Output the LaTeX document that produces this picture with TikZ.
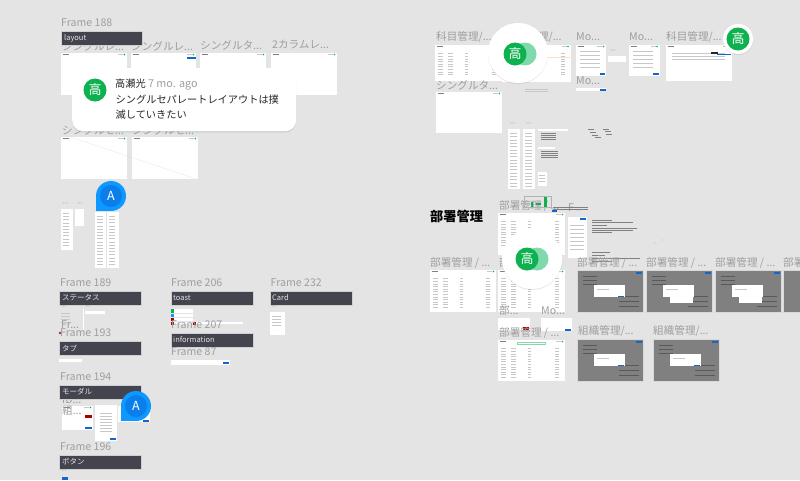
\documentclass[tikz,border=0pt]{standalone}
\usepackage{fontspec}
\setmainfont{Noto Sans CJK JP}
\usetikzlibrary{shadows}
\definecolor{canvas}{HTML}{E4E4E4}
\definecolor{labelgray}{HTML}{9E9E9E}
\definecolor{barink}{HTML}{44444F}
\definecolor{avatargreen}{HTML}{0DB14F}
\definecolor{avatarpale}{HTML}{7FD9AC}
\definecolor{pinblue}{HTML}{0D99FF}
\definecolor{pindark}{HTML}{0A7EEB}
\definecolor{btnblue}{HTML}{1267C9}
\definecolor{dimshot}{HTML}{808080}
\tikzset{
  framelabel/.style={anchor=west, inner sep=0pt, text=labelgray, font=\fontsize{10.6}{12}\selectfont},
  framebar/.style={anchor=north west, inner sep=0pt, fill=barink, draw=white!75!barink, line width=.4pt, minimum width=82pt, minimum height=14pt},
  bartext/.style={anchor=west, inner sep=0pt, text=white!85!barink, font=\fontsize{7.5}{9}\selectfont},
  shotbox/.style={anchor=north west, inner sep=0pt, fill=white},
  dimbox/.style={anchor=north west, inner sep=0pt, fill=dimshot, draw=white!70!dimshot, line width=.3pt},
  modalbox/.style={anchor=north west, inner sep=0pt, fill=white},
  tinyline/.style={draw=black!22, line width=.3pt},
  tinydark/.style={draw=black!50, line width=.35pt},
  avatar/.style={circle, inner sep=0pt, fill=avatargreen, text=white, minimum size=23pt, font=\fontsize{13}{14}\selectfont},
  palecircle/.style={circle, inner sep=0pt, fill=avatarpale, minimum size=23pt},
  whitedisc/.style={circle, inner sep=0pt, fill=white, drop shadow={opacity=.18, shadow xshift=0pt, shadow yshift=-1pt}},
  pintext/.style={circle, inner sep=0pt, fill=pindark, text=white, minimum size=22pt, font=\fontsize{12.5}{13}\selectfont},
  dotsmark/.style={anchor=center, inner sep=0pt, text=black!50, font=\fontsize{3.5}{4}\selectfont}
}
\newcommand{\threedots}{\textbullet\,\textbullet\,\textbullet}
% screenshot with its header marks
\newcommand{\shot}[5]{
  \node[shotbox, minimum width=#4pt, minimum height=#5pt] (#1) at (#2,#3) {};
  \draw[tinydark] ([shift={(1.5pt,-1.5pt)}]#1.north west) -- +(6,0);
  \draw[tinyline] ([shift={(-9pt,-1.5pt)}]#1.north east) -- +(5,0);
  \fill[avatargreen] ([shift={(-3pt,-1.5pt)}]#1.north east) circle (.9pt);
}
% screenshot with a side menu and table rows
\newcommand{\tablerows}[2]{
  \foreach \r in {1,...,#2} {
    \draw[tinyline] ([shift={(3pt,-6pt-2.6pt*\r)}]#1.north west) -- +(5,0);
    \draw[tinyline] ([shift={(13pt,-6pt-2.6pt*\r)}]#1.north west) -- +(5,0);
    \draw[tinyline] ([shift={(30pt,-6pt-2.6pt*\r)}]#1.north west) -- +(3,0);
    \draw[tinyline] ([shift={(-10pt,-6pt-2.6pt*\r)}]#1.north east) -- +(4,0);
  }
}
% dimmed screenshot with a modal on it
\newcommand{\dimshotbox}[3]{
  \node[dimbox, minimum width=66pt, minimum height=42pt] (#1) at (#2,#3) {};
  \foreach \r in {6,10,14} { \draw[black!65, line width=.3pt] ([shift={(6pt,-\r pt)}]#1.north west) -- +(14,0); }
  \foreach \r in {26,31,36} { \draw[black!65, line width=.3pt] ([shift={(-24pt,-\r pt)}]#1.north east) -- +(20,0); }
  \node[modalbox, minimum width=31pt, minimum height=12pt] (#1m) at ([shift={(17pt,-15pt)}]#1.north west) {};
  \draw[tinyline] ([shift={(3pt,-4pt)}]#1m.north west) -- +(12,0);
  \fill[btnblue] ([shift={(-7pt,1.5pt)}]#1m.south east) rectangle +(6,1.2);
  \fill[btnblue] ([shift={(-7pt,-2pt)}]#1.north east) rectangle +(6,1.5);
}
\newcommand{\pin}[3]{
  \fill[pinblue] (#2,#3) circle (15pt);
  \fill[pinblue] (#2,#3) rectangle +(-15,15);
  \node[pintext] (#1) at (#2,#3) {A};
}
\begin{document}
\begin{tikzpicture}[x=1pt,y=-1pt]
  \useasboundingbox (0,0) rectangle (800,480);
  \clip (0,0) rectangle (800,480);
  \fill[canvas] (0,0) rectangle (800,480);

  % left column, layout
  \node[framelabel] (f188) at (61,23) {Frame 188};
  \node[framelabel] (l188a) at (62,46) {シングルレ...};
  \node[framelabel] (l188b) at (131,46) {シングルレ...};
  \node[framelabel] (l188c) at (200,45) {シングルタ...};
  \node[framelabel] (l188d) at (272,45) {2カラムレ...};
  \node[framebar, minimum width=81pt] (b188) at (61,30.5) {};
  \node[bartext] at (64,38) {layout};
  \shot{s1}{61}{53}{66}{42}
  \shot{s2}{131}{53}{65}{42}
  \shot{s3}{200}{53}{66}{42}
  \shot{s4}{271}{53}{66}{42}
  \fill[btnblue] (187,57) rectangle (196,59);
  \node[framelabel] (l2a) at (62,130) {シングルセ...};
  \node[framelabel] (l2b) at (132,130) {シングルセ...};
  \shot{s5}{61}{137}{66}{42}
  \shot{s6}{132}{137}{66}{42}
  \draw[black!12, line width=.3pt] (58,133) -- (208,183);

  % comment card
  \node[anchor=north west, inner sep=0pt, fill=white, rounded corners=11pt, minimum width=224pt, minimum height=63pt,
    drop shadow={opacity=.2, shadow xshift=0pt, shadow yshift=-1.5pt}] (card) at (72,68) {};
  \node[avatar] (cardav) at (95,90) {高};
  \node[anchor=west, inner sep=0pt, font=\fontsize{10.2}{12}\selectfont, text=black!85] (cardname) at (115,85) {高瀬光 \textcolor{labelgray}{\fontsize{10.8}{12}\selectfont 7 mo. ago}};
  \node[anchor=west, inner sep=0pt, font=\fontsize{10.2}{12}\selectfont, text=black!85] (cardl1) at (115.5,99.5) {シングルセパレートレイアウトは撲};
  \node[anchor=west, inner sep=0pt, font=\fontsize{10.2}{12}\selectfont, text=black!85] (cardl2) at (115.5,114.5) {滅していきたい};

  % small sheets
  \node[dotsmark] at (65.5,204) {\threedots};
  \node[dotsmark] at (80,204) {\threedots};
  \node[dotsmark] at (100,204) {\threedots};
  \node[shotbox, minimum width=12pt, minimum height=41pt] (m1) at (61,209) {};
  \node[shotbox, minimum width=9pt, minimum height=17pt] (m2) at (75,209) {};
  \node[shotbox, minimum width=11pt, minimum height=56pt] (m3) at (95,212) {};
  \node[shotbox, minimum width=12pt, minimum height=56pt] (m4) at (107,212) {};
  \foreach \n/\k in {m1/11,m3/16,m4/16} {
    \foreach \r in {1,...,\k} {
      \draw[tinyline] ([shift={(2pt,-1pt-3.2pt*\r)}]\n.north west) -- +(6,0);
    }
  }
  \pin{pina}{111}{196}

  % left column, parts
  \node[framelabel] (f189) at (60,283) {Frame 189};
  \node[framebar] (b189) at (59,291) {};
  \node[bartext] at (62,298) {ステータス};
  \node[dotsmark] at (64,307) {\threedots};
  \node[dotsmark] at (88,307) {\threedots};
  \draw[white, line width=.5pt] (83.5,309) -- (83.5,330);
  \foreach \r in {313,316,319,322} { \draw[tinyline] (61,\r) -- (70,\r); }
  \node[shotbox, minimum width=20pt, minimum height=2.5pt] (tagrow) at (85,311) {};
  \node[framelabel] (lfr) at (61,325) {Fr...};
  \fill[red!60!black!80] (60,333) circle (1.3pt);
  \node[framelabel] (f193) at (60,333) {Frame 193};
  \node[framebar] (b193) at (59,341) {};
  \node[bartext] at (62,348) {タブ};
  \node[shotbox, minimum width=23pt, minimum height=2.5pt] (tabrow) at (59,359) {};

  \node[framelabel] (f206) at (171,283) {Frame 206};
  \node[framebar] (b206) at (171,291) {};
  \node[bartext] at (173,298) {toast};
  \fill[white] (173,309) rectangle (193,312.5);
  \fill[white] (173,313.5) rectangle (193,316.5);
  \fill[white] (173,317.5) rectangle (193,320.5);
  \fill[white] (173,321.5) rectangle (243,323.5);
  \fill[avatargreen] (171,309) rectangle (174,312.5);
  \fill[pinblue] (171,313.5) rectangle (174,316.5);
  \fill[red!65!black] (171,317.5) rectangle (174,320.5);
  \fill[red!65!black] (171,321.5) rectangle (174,324.5);
  \fill[red!65!black] (193,321.5) rectangle (196,324.5);
  \node[framelabel] (f207) at (171,325) {Frame 207};
  \node[framebar] (b207) at (171,332.5) {};
  \node[bartext] at (173,340) {information};
  \node[framelabel] (f87) at (171,352) {Frame 87};
  \node[shotbox, minimum width=59pt, minimum height=5pt] (s87) at (171,360) {};
  \fill[btnblue] (223,361.5) rectangle (229,363.5);

  \node[framelabel] (f232) at (270.5,283) {Frame 232};
  \node[framebar] (b232) at (270,291) {};
  \node[bartext] at (272,298) {Card};
  \node[dotsmark] at (274,307) {\threedots};
  \node[shotbox, minimum width=15pt, minimum height=23pt] (s232) at (270,312) {};
  \foreach \r in {316,319,322,325} { \draw[tinyline] (272,\r) -- (281,\r); }

  \node[framelabel] (f194) at (60,377) {Frame 194};
  \node[framelabel] (l194a) at (62,400) {ID...};
  \node[framebar] (b194) at (59,385) {};
  \node[bartext] at (62,392) {モーダル};
  \shot{s194a}{62}{406}{31}{24}
  \node[framelabel] (l194b) at (62,410.5) {組...};
  \fill[red!65!black] (85,415) rectangle (92,417.5);
  \fill[btnblue] (85,427) rectangle (92,429);
  \node[shotbox, minimum width=22pt, minimum height=36pt] (s194b) at (95,405) {};
  \foreach \r in {413,416,...,432} { \draw[tinyline] (100,\r) -- (112,\r); }
  \fill[btnblue] (110,438) rectangle (116,440);
  \node[shotbox, minimum width=32pt, minimum height=16pt] (s194c) at (118,406) {};
  \fill[btnblue] (143,420) rectangle (149,422);
  \pin{pinb}{136}{406}
  \node[framelabel] (f196) at (60,447) {Frame 196};
  \node[framebar] (b196) at (59,455) {};
  \node[bartext] at (62,462) {ボタン};
  \node[dotsmark] at (64,471) {\threedots};
  \fill[btnblue] (62,477) rectangle (68,480);

  % right side, top
  \node[framelabel] (r1) at (436,37) {科目管理/...};
  \node[framelabel] (r2) at (506,37) {科目管理/...};
  \node[framelabel] (r3) at (576,37) {Mo...};
  \node[framelabel] (r4) at (629,37) {Mo...};
  \node[framelabel] (r5) at (666,37) {科目管理/...};
  \shot{t1}{435}{45}{67}{36}
  \tablerows{t1}{9}
  \shot{t2}{502}{45}{68.5}{37}
  \tablerows{t2}{9}
  \fill[orange!25] (545,56.5) rectangle (570,58);
  \shot{t3}{576}{45}{30}{31}
  \foreach \r in {51,55,...,69} { \draw[tinyline] (580,\r) -- (600,\r); }
  \fill[btnblue] (600,73) rectangle (605,75);
  \node[dotsmark] at (613,51) {\threedots};
  \node[shotbox, minimum width=18pt, minimum height=6pt] (t3b) at (608,56) {};
  \shot{t4}{629}{45}{30.5}{31}
  \foreach \r in {51,55,...,69} { \draw[tinyline] (633,\r) -- (653,\r); }
  \fill[btnblue] (653,73) rectangle (659,75);
  \shot{t5}{666}{45}{66}{36}
  \foreach \r in {53,56,59} { \draw[tinyline] (672,\r) -- (725,\r); }
  \fill[btnblue] (717,53.5) rectangle (731,55);
  \fill[black!85] (711,52) rectangle (718,54);
  \node[framelabel] (r6) at (576,81) {Mo...};
  \node[shotbox, minimum width=30pt, minimum height=3pt] (t6) at (576,88) {};
  \fill[btnblue] (600,89) rectangle (606,91);
  \node[framelabel] (r7) at (436,85) {シングルタ...};
  \shot{t7}{436}{92}{66}{41}

  \node[whitedisc, minimum size=60pt] (disc1) at (518,53) {};
  \node[palecircle] (pale1) at (525,54) {};
  \node[avatar] (av1) at (515,54) {高};
  \node[whitedisc, minimum size=30pt] (disc2) at (738,39) {};
  \node[avatar] (av2) at (738,39) {高};
  \foreach \r in {89.5,91} { \draw[tinyline] (525,\r) -- (548,\r); }

  % right side, sheets and notes
  \node[dotsmark] at (513,124) {\threedots};
  \node[dotsmark] at (529,124) {\threedots};
  \node[shotbox, minimum width=12pt, minimum height=60pt] (n1) at (508,129) {};
  \node[shotbox, minimum width=12pt, minimum height=60pt] (n2) at (523,129) {};
  \foreach \n in {n1,n2} {
    \foreach \r in {1,...,17} {
      \draw[tinyline] ([shift={(2pt,-1pt-3.3pt*\r)}]\n.north west) -- +(7,0);
    }
  }
  \node[shotbox, minimum width=30pt, minimum height=2pt] (n3) at (538,128.5) {};
  \foreach \r in {133,135,137,139} { \draw[tinydark] (541,\r) -- (556,\r); }
  \node[shotbox, minimum width=17pt, minimum height=2pt] (n4) at (538,147) {};
  \foreach \r in {151,153,155,157} { \draw[tinydark] (541,\r) -- (558,\r); }
  \node[shotbox, minimum width=9pt, minimum height=14pt] (n5) at (538,172) {};
  \foreach \r in {175,178,181} { \draw[tinyline] (539,\r) -- (545,\r); }
  \foreach \x/\r in {588/129,590/132,592/135,595/137,603/129,605/131,606/134} { \draw[tinydark] (\x,\r) -- +(6,0); }

  % 部署管理
  \node[anchor=west, inner sep=0pt, font=\fontsize{13.2}{15}\bfseries\selectfont, text=black] (title) at (430,216) {部署管理};
  \node[framelabel] (d1) at (499,205.5) {部署管理 / ...};
  \shot{u1}{498}{213}{67}{42}
  \tablerows{u1}{10}
  \draw[black!30, line width=.3pt] (524,196) rectangle (551,207);
  \fill[avatargreen] (531,202) rectangle (533,207);
  \fill[avatargreen] (536,203) rectangle (541,205);
  \fill[avatargreen] (544,197) rectangle (547,207);
  \node[framelabel] (d1f) at (568,208) {F};
  \foreach \r in {207,209} { \draw[tinydark] (553,\r) -- (588,\r); }
  \fill[btnblue] (552,210) rectangle (557,212);
  \node[dotsmark] at (579,211) {\threedots};
  \node[shotbox, minimum width=19pt, minimum height=41pt] (u1b) at (568,217) {};
  \fill[btnblue] (580,218) rectangle (586,220);
  \foreach \r in {225,229,...,250} { \draw[tinyline] (570,\r) -- (584,\r); }
  \foreach \r/\e in {220/612,222/633,225/607,228/637,230/633,232/612} { \draw[tinydark] (592,\r) -- (\e,\r); }
  \foreach \r/\e in {252/610,255/605,258/640,261/612} { \draw[tinydark] (592,\r) -- (\e,\r); }
  \fill[black!50] (655,243) circle (.4pt);
  \fill[black!50] (663,240) circle (.4pt);

  \node[framelabel] (d2) at (430,262.5) {部署管理 / ...};
  \shot{u2}{430}{270}{66}{42}
  \tablerows{u2}{12}
  \node[framelabel] (d3) at (499,262.5) {部署管理 / ...};
  \shot{u3}{498}{270}{67}{42}
  \tablerows{u3}{12}
  \node[framelabel] (d4) at (577,262.5) {部署管理 / ...};
  \node[framelabel] (d5) at (646,262.5) {部署管理 / ...};
  \node[framelabel] (d6) at (715,262.5) {部署管理 / ...};
  \node[framelabel] (d7) at (783,262.5) {部署管理 / ...};
  \dimshotbox{g1}{577}{270}
  \dimshotbox{g2}{646}{270}
  \dimshotbox{g3}{715}{270}
  \node[modalbox, minimum width=23pt, minimum height=12pt] (g2x) at (670,291) {};
  \node[modalbox, minimum width=23pt, minimum height=12pt] (g3x) at (739,291) {};
  \node[dimbox, minimum width=30pt, minimum height=42pt] (g4) at (783,270) {};
  \node[whitedisc, minimum size=60pt] (disc3) at (532,259) {};
  \node[palecircle] (pale3) at (537,259) {};
  \node[avatar] (av3) at (527,259) {高};

  \node[framelabel] (d8) at (499,310.5) {部...};
  \node[framelabel] (d9) at (541,310.5) {Mo...};
  \node[shotbox, minimum width=32pt, minimum height=12pt] (u8) at (498,318) {};
  \node[shotbox, minimum width=31pt, minimum height=13pt] (u9) at (541,318) {};
  \fill[btnblue] (565,329) rectangle (571,331);
  \fill[red!65!black] (523,327) rectangle (529,330);
  \node[framelabel] (d10) at (499,333) {部署管理 / ...};
  \shot{u10}{498}{340}{67}{41}
  \tablerows{u10}{12}
  \draw[avatargreen!50, line width=.3pt] (517,342) rectangle (545,344);
  \node[framelabel] (d11) at (578,331) {組織管理/...};
  \node[framelabel] (d12) at (653,331) {組織管理/...};
  \dimshotbox{g5}{577}{339}
  \dimshotbox{g6}{653}{339}
\end{tikzpicture}
\end{document}
